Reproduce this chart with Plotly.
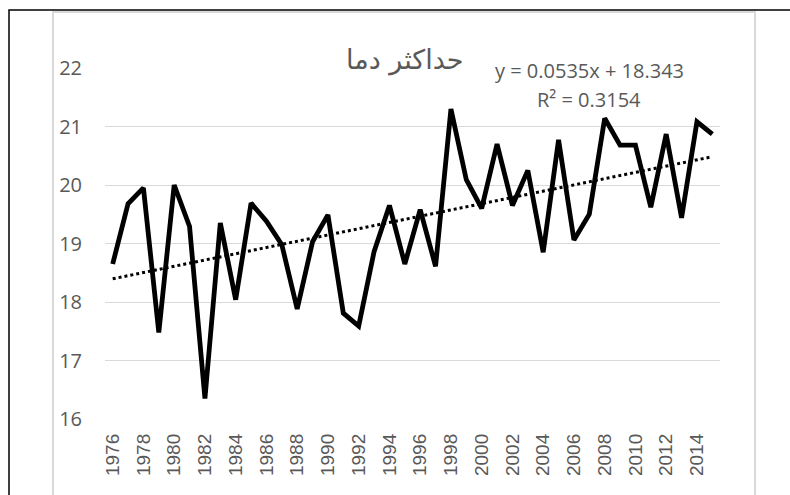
import plotly.graph_objects as go

years = list(range(1976, 2016))
tmax = [18.65, 19.68, 19.95, 17.48, 20.00, 19.29, 16.35, 19.35, 18.04, 19.69,
        19.38, 18.98, 17.88, 19.03, 19.49, 17.81, 17.59, 18.86, 19.65, 18.65,
        19.58, 18.61, 21.30, 20.09, 19.60, 20.70, 19.65, 20.25, 18.85, 20.77,
        19.06, 19.50, 21.14, 20.68, 20.68, 19.62, 20.87, 19.44, 21.08, 20.87]
trend_slope = 0.0535
trend_intercept = 18.343
trend_label = "y = 0.0535x + 18.343"
r2_label = "R² = 0.3154"
title_text = "حداکثر دما"
tick_years = list(range(1976, 2015, 2))
y_ticks = [16, 17, 18, 19, 20, 21, 22]

trend = [trend_slope * (i + 1) + trend_intercept for i in range(len(years))]

W, H = 790, 495
L, R, T, B = 105, 70, 68, 76
PW, PH = W - L - R, H - T - B


def px(x):
    return (x - L) / PW


def py(y):
    return 1 - (y - T) / PH


fig = go.Figure()
fig.add_trace(go.Scatter(x=years, y=tmax, mode="lines",
                         line=dict(color="black", width=4.8), showlegend=False))
fig.add_trace(go.Scatter(x=years, y=trend, mode="lines",
                         line=dict(color="black", width=3, dash="dot"), showlegend=False))

fig.update_layout(
    width=W, height=H,
    margin=dict(l=L, r=R, t=T, b=B, autoexpand=False),
    paper_bgcolor="white", plot_bgcolor="white",
    font=dict(family="Liberation Sans, Arial", color="#595959"),
    xaxis=dict(range=[1975.5, 2015.5], tickvals=tick_years,
               ticktext=[str(y) for y in tick_years], tickangle=-90,
               showgrid=False, zeroline=False, showline=False, ticks="",
               automargin=False,
               tickfont=dict(size=19, color="#595959", family="Liberation Sans"),
               ticklabelstandoff=10),
    yaxis=dict(range=[16, 22], tickvals=y_ticks, showgrid=True, gridcolor="#d9d9d9",
               gridwidth=1, zeroline=False, showline=False, ticks="",
               automargin=False,
               tickfont=dict(size=20, color="#595959", family="Open Sans"),
               ticklabelstandoff=22),
    shapes=[
        dict(type="rect", xref="paper", yref="paper", x0=px(9), y0=py(520), x1=px(820), y1=py(10),
             line=dict(color="black", width=1.5), layer="below"),
        dict(type="rect", xref="paper", yref="paper", x0=px(53), y0=py(520), x1=px(755), y1=py(12),
             line=dict(color="#d9d9d9", width=2), layer="below"),
    ],
    annotations=[
        dict(text=title_text, xref="paper", yref="paper", x=px(405), y=py(60),
             xanchor="center", yanchor="middle",
             showarrow=False, font=dict(size=27, color="#595959", family="DejaVu Sans")),
        dict(text=trend_label, xref="paper", yref="paper", x=px(589), y=py(70),
             xanchor="center", yanchor="middle",
             showarrow=False, font=dict(size=20, color="#595959", family="Open Sans")),
        dict(text=r2_label, xref="paper", yref="paper", x=px(589), y=py(99),
             xanchor="center", yanchor="middle",
             showarrow=False, font=dict(size=20, color="#595959", family="Open Sans")),
    ],
)

fig.write_html("out.html", config={"displayModeBar": False},
               post_script="document.body.style.margin='0';document.body.style.overflow='hidden';")
